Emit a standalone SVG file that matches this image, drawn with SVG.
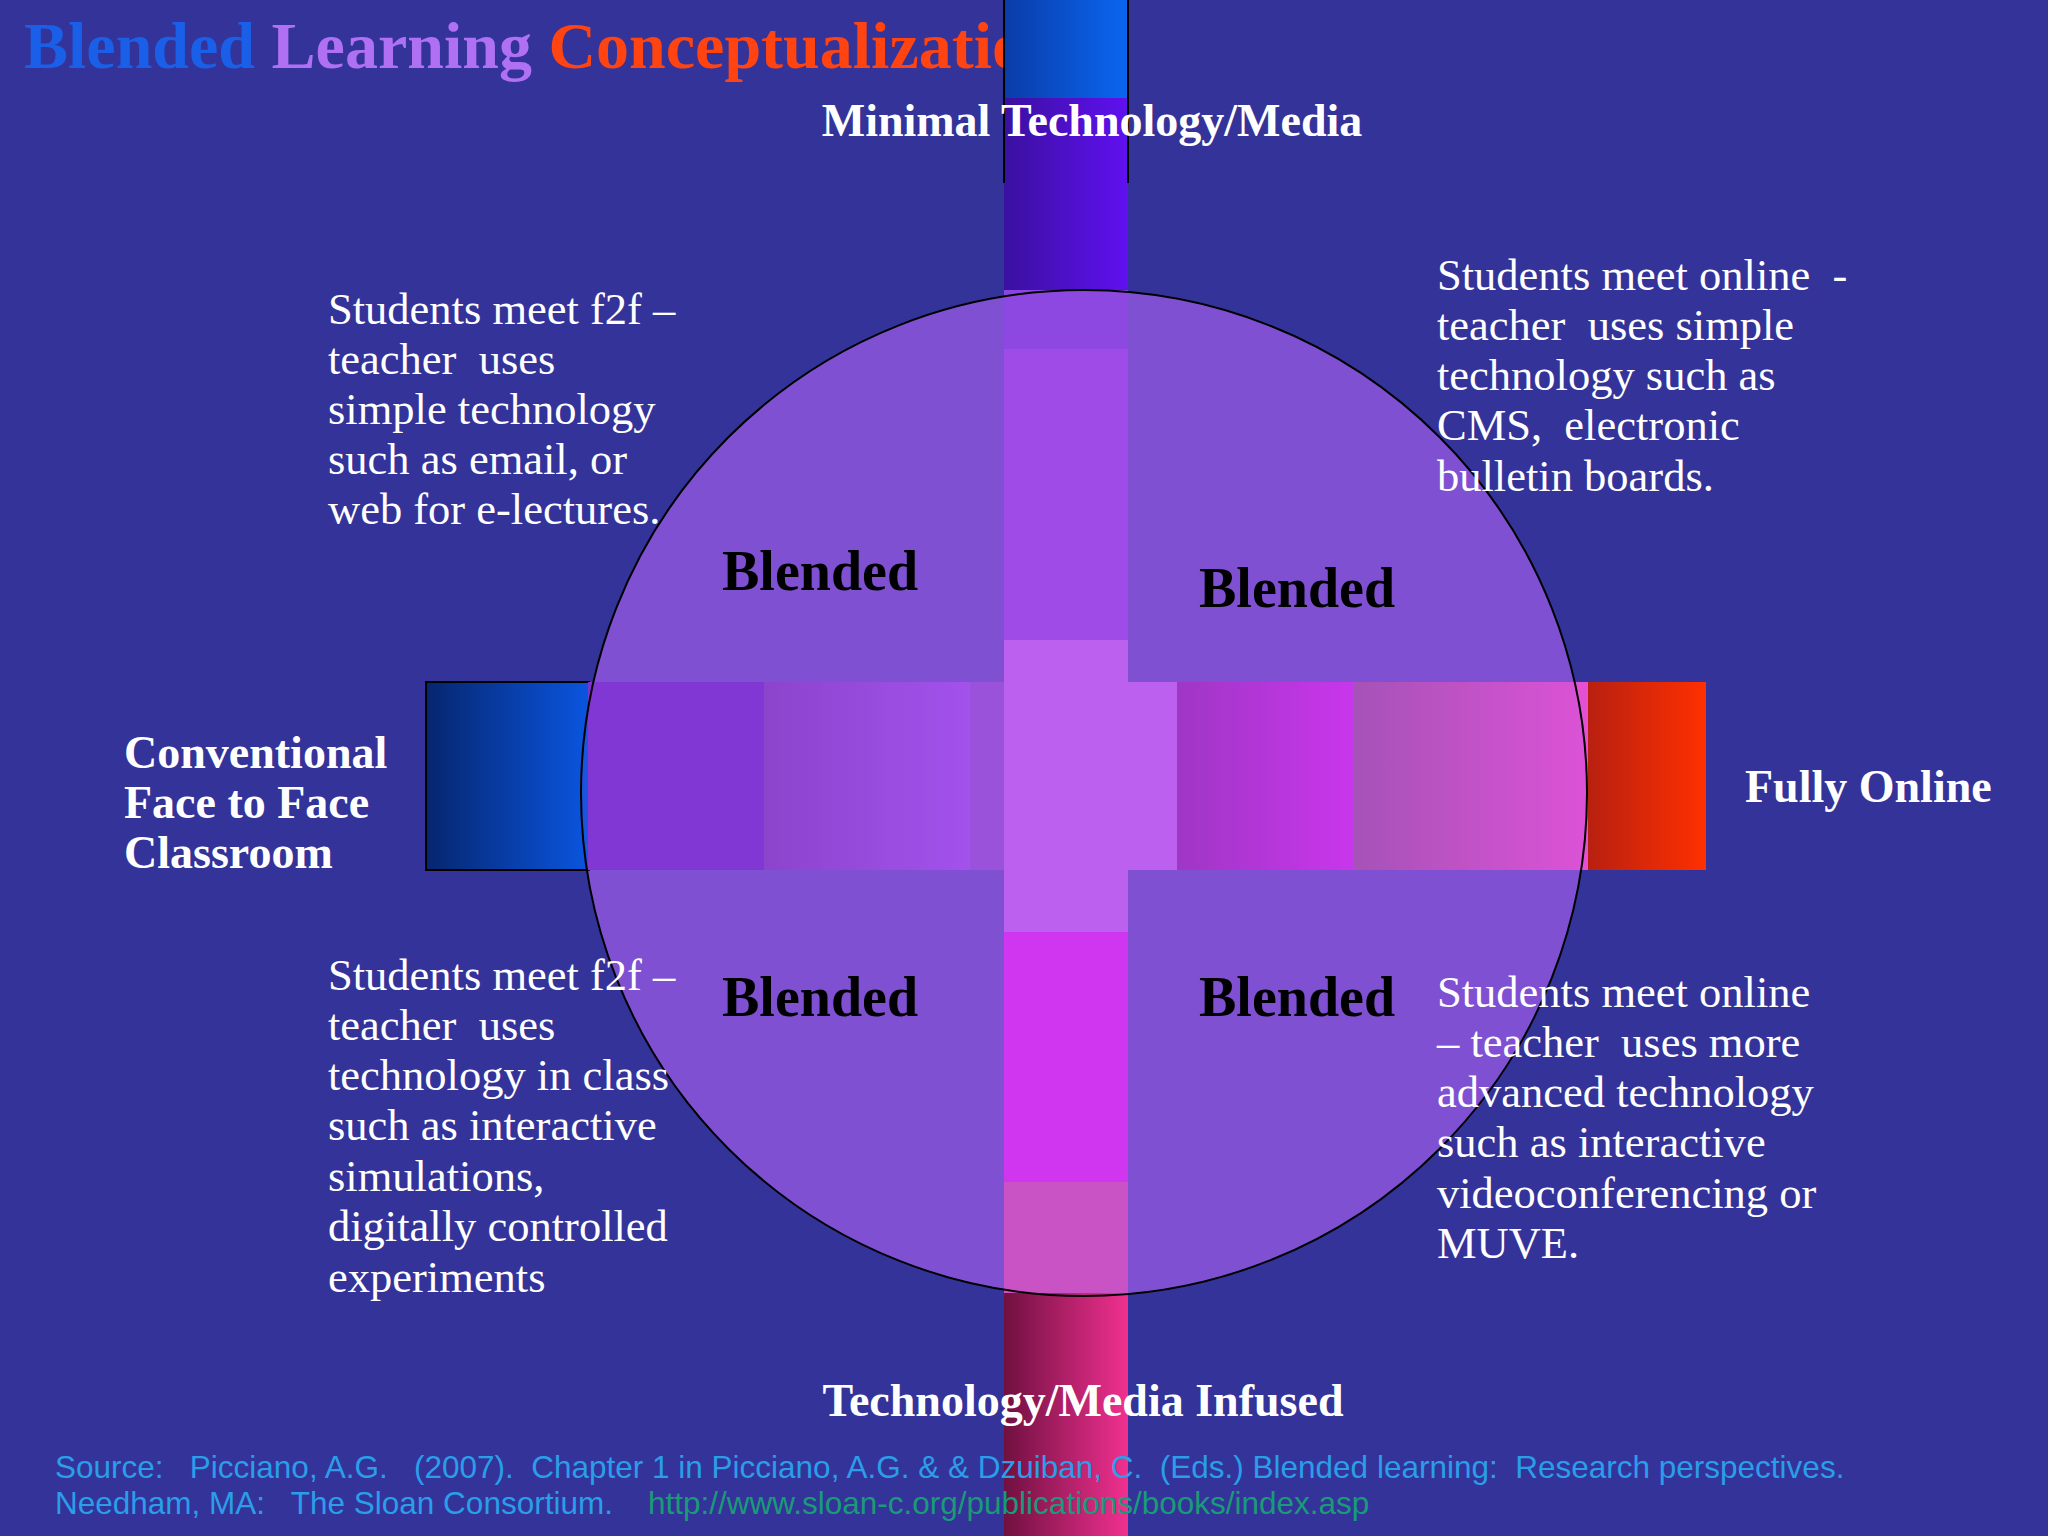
<svg xmlns="http://www.w3.org/2000/svg" width="2048" height="1536" viewBox="0 0 2048 1536">
<defs>
<linearGradient id="gBlueV" x1="0" y1="0" x2="1" y2="0"><stop offset="0" stop-color="#0a3ca8"/><stop offset="1" stop-color="#0a66f0"/></linearGradient>
<linearGradient id="gBlueH" x1="0" y1="0" x2="1" y2="0"><stop offset="0" stop-color="#06266e"/><stop offset="1" stop-color="#0a55e0"/></linearGradient>
<linearGradient id="gRedH" x1="0" y1="0" x2="1" y2="0"><stop offset="0" stop-color="#b82010"/><stop offset="1" stop-color="#ff3000"/></linearGradient>
<linearGradient id="gBot" x1="0" y1="0" x2="1" y2="0"><stop offset="0" stop-color="#701040"/><stop offset="1" stop-color="#f03090"/></linearGradient>
<linearGradient id="gPurpV" x1="0" y1="0" x2="1" y2="0"><stop offset="0" stop-color="#3a10a0"/><stop offset="1" stop-color="#6010f0"/></linearGradient>
<linearGradient id="gH2" x1="0" y1="0" x2="1" y2="0"><stop offset="0" stop-color="#8a40c8"/><stop offset="1" stop-color="#a450ec"/></linearGradient>
<linearGradient id="gH5" x1="0" y1="0" x2="1" y2="0"><stop offset="0" stop-color="#a030c0"/><stop offset="1" stop-color="#d030ec"/></linearGradient>
<linearGradient id="gH6" x1="0" y1="0" x2="1" y2="0"><stop offset="0" stop-color="#a850b0"/><stop offset="1" stop-color="#e650d4"/></linearGradient>
</defs>
<style>
text{white-space:pre}
.t{font-family:"Liberation Serif",serif;fill:#fff;font-size:44.5px}
.b{font-family:"Liberation Serif",serif;font-weight:bold;fill:#fff;font-size:46px}
.bl{font-family:"Liberation Serif",serif;font-weight:bold;fill:#000;font-size:56px}
.s{font-family:"Liberation Sans",sans-serif;font-size:31.5px;fill:#2a9ee8}
</style>
<rect width="2048" height="1536" fill="#343399"/>
<text x="24" y="68" font-family="Liberation Serif,serif" font-weight="bold" font-size="66"><tspan fill="#1a5fe8">Blended </tspan><tspan fill="#b070f4">Learning </tspan><tspan fill="#ff4412">Conceptualization</tspan></text>
<g id="circle-fill"><circle cx="1084" cy="793" r="503" fill="#7b4fcf"/></g>
<g id="vbar">
<rect x="1004" y="0" width="124" height="100" fill="url(#gBlueV)"/>
<rect x="1004" y="98" width="124" height="192" fill="url(#gPurpV)"/>
<rect x="1004" y="290" width="124" height="60" fill="#8a45e0"/>
<rect x="1004" y="349" width="124" height="292" fill="#a048e8"/>
<rect x="1004" y="640" width="124" height="293" fill="#c060f0"/>
<rect x="1004" y="932" width="124" height="251" fill="#d830f0"/>
<rect x="1004" y="1182" width="124" height="112" fill="#d050c0"/>
<rect x="1004" y="1293" width="124" height="243" fill="url(#gBot)"/>
<path d="M1004 0V183M1128 0V183" stroke="#000" stroke-width="2"/>
</g>
<g id="hbar">
<rect x="426" y="682" width="163" height="188" fill="url(#gBlueH)" stroke="#000" stroke-width="2"/>
<rect x="588" y="682" width="177" height="188" fill="#7e32d0"/>
<rect x="764" y="682" width="207" height="188" fill="url(#gH2)"/>
<rect x="970" y="682" width="34" height="188" fill="#9a50d8"/>
<rect x="1128" y="682" width="50" height="188" fill="#c060f0"/>
<rect x="1177" y="682" width="177" height="188" fill="url(#gH5)"/>
<rect x="1353" y="682" width="236" height="188" fill="url(#gH6)"/>
<rect x="1588" y="682" width="118" height="188" fill="url(#gRedH)"/>
</g>
<g id="circle"><circle cx="1084" cy="793" r="503" fill="#9a60f0" fill-opacity="0.12" stroke="#000" stroke-width="2"/></g>
<g id="labels">
<text class="b" x="1092" y="136" text-anchor="middle">Minimal Technology/Media</text>
<text class="b" x="1083" y="1416" text-anchor="middle">Technology/Media Infused</text>
<text class="b" x="124" y="768">Conventional</text>
<text class="b" x="124" y="818">Face to Face</text>
<text class="b" x="124" y="868">Classroom</text>
<text class="b" x="1745" y="802">Fully Online</text>
<text class="bl" x="722" y="590">Blended</text>
<text class="bl" x="1199" y="607">Blended</text>
<text class="bl" x="722" y="1016">Blended</text>
<text class="bl" x="1199" y="1016">Blended</text>
<text class="t" x="328"><tspan x="328" y="324">Students meet f2f –</tspan><tspan x="328" y="374">teacher  uses</tspan><tspan x="328" y="424">simple technology</tspan><tspan x="328" y="474">such as email, or</tspan><tspan x="328" y="524">web for e-lectures.</tspan></text>
<text class="t"><tspan x="1437" y="290">Students meet online  -</tspan><tspan x="1437" y="340">teacher  uses simple</tspan><tspan x="1437" y="390">technology such as</tspan><tspan x="1437" y="440">CMS,  electronic</tspan><tspan x="1437" y="491">bulletin boards.</tspan></text>
<text class="t"><tspan x="328" y="990">Students meet f2f –</tspan><tspan x="328" y="1040">teacher  uses</tspan><tspan x="328" y="1090">technology in class</tspan><tspan x="328" y="1140">such as interactive</tspan><tspan x="328" y="1191">simulations,</tspan><tspan x="328" y="1241">digitally controlled</tspan><tspan x="328" y="1292">experiments</tspan></text>
<text class="t"><tspan x="1437" y="1007">Students meet online</tspan><tspan x="1437" y="1057">– teacher  uses more</tspan><tspan x="1437" y="1107">advanced technology</tspan><tspan x="1437" y="1157">such as interactive</tspan><tspan x="1437" y="1208">videoconferencing or</tspan><tspan x="1437" y="1258">MUVE.</tspan></text>
<text class="s" x="55" y="1478">Source:   Picciano, A.G.   (2007).  Chapter 1 in Picciano, A.G. &amp; &amp; Dzuiban, C.  (Eds.) Blended learning:  Research perspectives.</text>
<text class="s" x="55" y="1514">Needham, MA:   The Sloan Consortium.    <tspan fill="#1a9a78">http://www.sloan-c.org/publications/books/index.asp</tspan></text>
</g>
</svg>
